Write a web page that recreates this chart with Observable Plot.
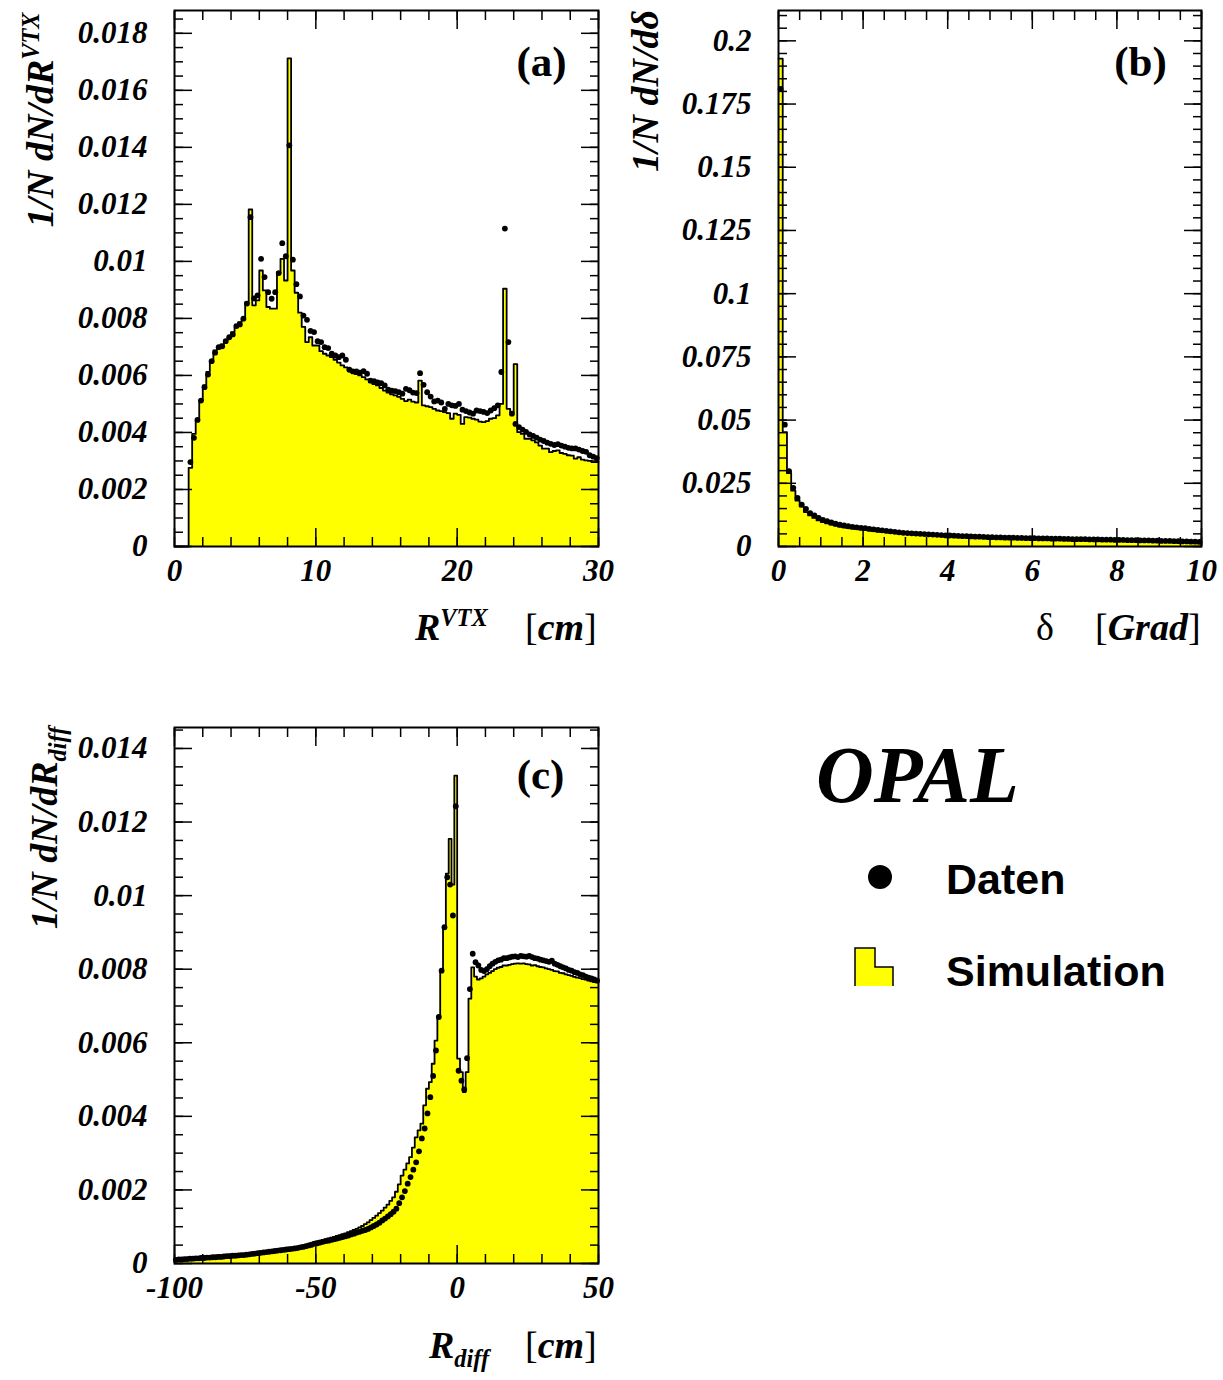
<!DOCTYPE html>
<html>
<head>
<meta charset="utf-8">
<script src="https://cdn.jsdelivr.net/npm/d3@7"></script>
<script src="https://cdn.jsdelivr.net/npm/@observablehq/plot@0.6"></script>
<style>
  body { margin: 0; background: #fff; }
  #page { position: relative; width: 1223px; height: 1380px; overflow: hidden;
          font-family: "Liberation Serif", "Times New Roman", serif; color: #000; }
  .panel { position: absolute; }
  .t { position: absolute; font-weight: bold; font-style: italic; font-size: 38px;
       white-space: nowrap; line-height: 1; }
  .rot { transform: translate(-50%, -50%) rotate(-90deg); }
  .up { font-style: normal; font-weight: normal; }
  sup, sub { font-size: 0.64em; line-height: 0; }
  .sans { font-family: "Liberation Sans", Arial, sans-serif; font-style: normal; font-weight: bold; }
</style>
</head>
<body>
<div id="page">
  <div class="panel" id="pa" style="left:0;top:0"></div>
  <div class="panel" id="pb" style="left:600px;top:0"></div>
  <div class="panel" id="pc" style="left:0;top:700px"></div>

  <!-- axis titles -->
  <div class="t rot" style="left:40px;top:120px">1/N dN/dR<sup>VTX</sup></div>
  <div class="t" style="left:415px;top:608px">R<sup>VTX</sup></div>
  <div class="t" style="left:525px;top:608px"><span class="up">[</span>cm<span class="up">]</span></div>

  <div class="t rot" style="left:645px;top:91px">1/N dN/d&#948;</div>
  <div class="t up" style="left:1036px;top:608px">&#948;</div>
  <div class="t" style="left:1095px;top:608px"><span class="up">[</span>Grad<span class="up">]</span></div>

  <div class="t rot" style="left:44px;top:828px">1/N dN/dR<sub>diff</sub></div>
  <div class="t" style="left:429px;top:1326px">R<sub>diff</sub></div>
  <div class="t" style="left:525px;top:1326px"><span class="up">[</span>cm<span class="up">]</span></div>

  <!-- experiment tag and legend -->
  <div class="t" style="left:816px;top:735px;font-size:80px">OPAL</div>
  <svg style="position:absolute;left:840px;top:850px" width="60" height="150">
    <circle cx="40" cy="27" r="12" fill="#000"></circle>
    <path d="M15,136 V98 H35 V117 H53 V136 Z" fill="#ffff00"></path>
    <path d="M15,136 V98 H35 V117 H53 V136" fill="none" stroke="#000" stroke-width="1.5"></path>
  </svg>
  <div class="t sans" style="left:946px;top:858px;font-size:43px">Daten</div>
  <div class="t sans" style="left:946px;top:950px;font-size:43px">Simulation</div>
</div>

<script>
// ---------- (a) vertex radius R^VTX, 120 bins of 0.25 cm on [0, 30] ----------
const rvtxRange = [0, 30];
const rvtxSim = [
  0, 0, 0, 0, 0.00276, 0.00395, 0.00442, 0.00512, 0.00565, 0.00612,
  0.00647, 0.00688, 0.00699, 0.00709, 0.00723, 0.00734, 0.00752, 0.00769, 0.00787, 0.00799,
  0.00857, 0.01182, 0.00846, 0.00863, 0.00968, 0.00898, 0.0084, 0.00834, 0.00834, 0.00962,
  0.01009, 0.00933, 0.01712, 0.00968, 0.0089, 0.0082, 0.0077, 0.00717, 0.00734, 0.00705,
  0.00705, 0.00685, 0.00676, 0.0067, 0.00664, 0.00655, 0.00645, 0.00635, 0.00628, 0.00618,
  0.00612, 0.00605, 0.006, 0.00594, 0.00586, 0.00576, 0.0057, 0.00565, 0.00556, 0.00547,
  0.0054, 0.00534, 0.0053, 0.00525, 0.00518, 0.0051, 0.00515, 0.00508, 0.00505, 0.00582,
  0.00495, 0.00492, 0.00489, 0.00483, 0.00477, 0.00475, 0.00471, 0.00468, 0.00448, 0.00466,
  0.00462, 0.0043, 0.00454, 0.00452, 0.00448, 0.00445, 0.00438, 0.00436, 0.0044, 0.00448,
  0.0045, 0.0046, 0.005, 0.00904, 0.00483, 0.0047, 0.0064, 0.00401, 0.00395, 0.00378,
  0.00378, 0.00372, 0.00365, 0.00354, 0.00343, 0.00343, 0.00331, 0.00335, 0.00337, 0.00328,
  0.00325, 0.0032, 0.00319, 0.00308, 0.00313, 0.00305, 0.00302, 0.003, 0.00296, 0.00296
];
const rvtxData = [
  null, null, null, null, 0.00296, 0.00381, 0.00444, 0.00512, 0.00559, 0.00603,
  0.0065, 0.0068, 0.00699, 0.00702, 0.0072, 0.00734, 0.00744, 0.00773, 0.00779, 0.00799,
  0.00852, 0.01155, 0.0087, 0.00881, 0.01009, 0.00945, 0.00892, 0.00869, 0.00892, 0.00959,
  0.01064, 0.01018, 0.01407, 0.01006, 0.0092, 0.00877, 0.0081, 0.00795, 0.00756, 0.00752,
  0.0072, 0.00717, 0.00699, 0.00696, 0.00676, 0.0067, 0.00664, 0.0067, 0.00655, 0.0062,
  0.00614, 0.00614, 0.0061, 0.00615, 0.00606, 0.00582, 0.0058, 0.00576, 0.00573, 0.00565,
  0.0055, 0.00547, 0.00545, 0.00541, 0.00536, 0.00553, 0.00548, 0.0054, 0.00538, 0.00608,
  0.00567, 0.00541, 0.00526, 0.00509, 0.00512, 0.00505, 0.00483, 0.005, 0.00495, 0.00493,
  0.005, 0.0048, 0.00475, 0.0047, 0.00466, 0.00477, 0.00475, 0.00472, 0.00468, 0.00477,
  0.00485, 0.00495, 0.00612, 0.01115, 0.00717, 0.00466, 0.0043, 0.00419, 0.0041, 0.00402,
  0.00393, 0.00388, 0.00382, 0.00375, 0.0037, 0.00364, 0.0036, 0.00356, 0.00359, 0.00354,
  0.0035, 0.00346, 0.00344, 0.00344, 0.0034, 0.00335, 0.00332, 0.0032, 0.00315, 0.0031
];
const rvtxXTicks = [0, 10, 20, 30];
const rvtxYTicks = [0, 0.002, 0.004, 0.006, 0.008, 0.01, 0.012, 0.014, 0.016, 0.018];

// ---------- (b) opening angle delta, 100 bins of 0.1 degree on [0, 10] ----------
const deltaRange = [0, 10];
const deltaSim = [
  0.193, 0.0452, 0.029, 0.0221, 0.0182, 0.0158, 0.0136, 0.0123, 0.0113, 0.0103,
  0.0097, 0.0092, 0.0087, 0.0083, 0.0079, 0.0076, 0.0073, 0.0071, 0.0069, 0.0067,
  0.0065, 0.0063, 0.0061, 0.0059, 0.0057, 0.0056, 0.0054, 0.0053, 0.0051, 0.005,
  0.0049, 0.0048, 0.0047, 0.0046, 0.0045, 0.0044, 0.0043, 0.0042, 0.0041, 0.004,
  0.004, 0.0039, 0.0038, 0.0038, 0.0037, 0.0036, 0.0036, 0.0035, 0.0035, 0.0034,
  0.0034, 0.0033, 0.0033, 0.0032, 0.0032, 0.0032, 0.0031, 0.0031, 0.003, 0.003,
  0.003, 0.0029, 0.0029, 0.0029, 0.0028, 0.0028, 0.0028, 0.0027, 0.0027, 0.0027,
  0.0026, 0.0026, 0.0026, 0.0025, 0.0025, 0.0025, 0.0024, 0.0024, 0.0024, 0.0023,
  0.0023, 0.0023, 0.0022, 0.0022, 0.0022, 0.0021, 0.0021, 0.0021, 0.002, 0.002,
  0.0019, 0.0019, 0.0019, 0.0018, 0.0018, 0.0017, 0.0017, 0.0016, 0.0016, 0.0015
];
const deltaData = [
  0.181, 0.0482, 0.0298, 0.0232, 0.0192, 0.0166, 0.0149, 0.0132, 0.0123, 0.0113,
  0.0105, 0.01, 0.0095, 0.009, 0.0086, 0.0083, 0.008, 0.0078, 0.0076, 0.0074,
  0.00725, 0.007, 0.0068, 0.0066, 0.0064, 0.0062, 0.006, 0.0058, 0.0056, 0.0054,
  0.0053, 0.0052, 0.0051, 0.005, 0.0049, 0.0048, 0.0047, 0.0046, 0.0045, 0.0044,
  0.00435, 0.0043, 0.0042, 0.0041, 0.0041, 0.004, 0.0039, 0.0039, 0.0038, 0.0037,
  0.0037, 0.0036, 0.0036, 0.0035, 0.0035, 0.0035, 0.0034, 0.0034, 0.0033, 0.0033,
  0.0033, 0.0032, 0.0032, 0.0032, 0.0031, 0.0031, 0.0031, 0.003, 0.003, 0.0029,
  0.0029, 0.0029, 0.0029, 0.0028, 0.0028, 0.0028, 0.0027, 0.0027, 0.0027, 0.0026,
  0.0026, 0.0026, 0.0025, 0.0025, 0.0025, 0.0024, 0.0024, 0.0024, 0.0023, 0.0023,
  0.0022, 0.0022, 0.0022, 0.0021, 0.0021, 0.002, 0.002, 0.0019, 0.0019, 0.0018
];
const deltaXTicks = [0, 2, 4, 6, 8, 10];
const deltaYTicks = [0, 0.025, 0.05, 0.075, 0.1, 0.125, 0.15, 0.175, 0.2];

// ---------- (c) radial difference R_diff, 150 bins of 1 cm on [-100, 50] ----------
const rdiffRange = [-100, 50];
const rdiffSim = [
  0.00014, 0.00014, 0.00015, 0.00015, 0.00016, 0.00016, 0.00017, 0.00017, 0.00018, 0.00019,
  0.00019, 0.0002, 0.0002, 0.00021, 0.00021, 0.00022, 0.00022, 0.00023, 0.00023, 0.00024,
  0.00024, 0.00025, 0.00026, 0.00026, 0.00027, 0.00027, 0.00028, 0.00029, 0.0003, 0.00031,
  0.00032, 0.00033, 0.00034, 0.00035, 0.00036, 0.00037, 0.00038, 0.00039, 0.0004, 0.00041,
  0.00042, 0.00043, 0.00044, 0.00046, 0.00047, 0.00049, 0.0005, 0.00052, 0.00055, 0.00058,
  0.0006, 0.00062, 0.00064, 0.00066, 0.00068, 0.0007, 0.00072, 0.00075, 0.00077, 0.0008,
  0.00082, 0.00085, 0.00088, 0.00091, 0.00094, 0.00098, 0.00102, 0.00107, 0.00112, 0.00118,
  0.00124, 0.0013, 0.00137, 0.00144, 0.00152, 0.0016, 0.0017, 0.0018, 0.00195, 0.00215,
  0.00239, 0.00255, 0.00272, 0.00289, 0.00315, 0.00343, 0.00362, 0.0038, 0.0043, 0.00475,
  0.00493, 0.00543, 0.00606, 0.00669, 0.00796, 0.00914, 0.0106, 0.01154, 0.0103, 0.01326,
  0.00557, 0.0052, 0.00466, 0.0052, 0.0072, 0.00805, 0.0078, 0.00772, 0.00775, 0.0078,
  0.00786, 0.0079, 0.00795, 0.008, 0.00804, 0.00806, 0.0081, 0.0081, 0.00812, 0.00814,
  0.00815, 0.00816, 0.00815, 0.00816, 0.00814, 0.00813, 0.0081, 0.00811, 0.00808, 0.00806,
  0.00805, 0.00802, 0.008, 0.00798, 0.00795, 0.00794, 0.0079, 0.00789, 0.00786, 0.00784,
  0.00782, 0.00779, 0.00777, 0.00776, 0.00773, 0.00772, 0.00769, 0.00767, 0.00765, 0.00764
];
const rdiffData = [
  0.0001, 0.00011, 0.00011, 0.00012, 0.00012, 0.00013, 0.00013, 0.00014, 0.00014, 0.00015,
  0.00015, 0.00016, 0.00016, 0.00017, 0.00017, 0.00018, 0.00018, 0.00019, 0.0002, 0.0002,
  0.00021, 0.00021, 0.00022, 0.00023, 0.00023, 0.00024, 0.00025, 0.00026, 0.00027, 0.00028,
  0.00029, 0.0003, 0.00031, 0.00032, 0.00033, 0.00034, 0.00035, 0.00036, 0.00037, 0.00038,
  0.00039, 0.0004, 0.00041, 0.00042, 0.00044, 0.00045, 0.00047, 0.00049, 0.00051, 0.00054,
  0.00055, 0.00057, 0.00059, 0.00061, 0.00062, 0.00064, 0.00066, 0.00068, 0.0007, 0.00072,
  0.00074, 0.00076, 0.00079, 0.00081, 0.00084, 0.00086, 0.00089, 0.00091, 0.00094, 0.00098,
  0.00102, 0.00106, 0.00111, 0.00117, 0.00122, 0.00128, 0.00134, 0.00141, 0.00149, 0.00164,
  0.0018, 0.00197, 0.00217, 0.00235, 0.00255, 0.00275, 0.00305, 0.0034, 0.00367, 0.00408,
  0.00452, 0.0051, 0.00579, 0.0067, 0.00796, 0.00914, 0.0105, 0.0103, 0.00946, 0.01243,
  0.00524, 0.00497, 0.00473, 0.00558, 0.00746, 0.00842, 0.00819, 0.0081, 0.00798, 0.00795,
  0.008, 0.00808, 0.00815, 0.0082, 0.00824, 0.00826, 0.0083, 0.0083, 0.00832, 0.00834,
  0.00835, 0.00833, 0.00836, 0.00835, 0.00834, 0.00836, 0.00833, 0.0083, 0.00829, 0.00826,
  0.00824, 0.00822, 0.0082, 0.00823, 0.00815, 0.00812, 0.00808, 0.00805, 0.00802, 0.00798,
  0.00796, 0.00792, 0.0079, 0.00786, 0.00784, 0.0078, 0.00777, 0.00775, 0.00772, 0.00769
];
const rdiffXTicks = [-100, -50, 0, 50];
const rdiffYTicks = [0, 0.002, 0.004, 0.006, 0.008, 0.01, 0.012, 0.014];

// Inward-pointing ticks on all four sides of the frame, labels on left and bottom.
function frameAxes({xTicks, xMinor, yTicks, yMinor, xFmt, yFmt}) {
  const tk = {stroke: "black", strokeWidth: 1.5, label: null};
  return [
    Plot.axisX(xTicks, {...tk, anchor: "bottom", tickSize: -18, tickPadding: 30, tickFormat: xFmt}),
    Plot.axisX(xMinor, {...tk, anchor: "bottom", tickSize: -9, fill: "none"}),
    Plot.axisX(xTicks, {...tk, anchor: "top", tickSize: -18, fill: "none"}),
    Plot.axisX(xMinor, {...tk, anchor: "top", tickSize: -9, fill: "none"}),
    Plot.axisY(yTicks, {...tk, anchor: "left", tickSize: -18, tickPadding: 45, tickFormat: yFmt}),
    Plot.axisY(yMinor, {...tk, anchor: "left", tickSize: -9, fill: "none"}),
    Plot.axisY(yTicks, {...tk, anchor: "right", tickSize: -18, fill: "none"}),
    Plot.axisY(yMinor, {...tk, anchor: "right", tickSize: -9, fill: "none"})
  ];
}

// Filled histogram (simulation) with step outline, plus data points at bin centres.
function histPanel(o) {
  const [lo, hi] = o.range;
  const n = o.sim.length;
  const bw = (hi - lo) / n;
  const steps = o.sim.map((v, i) => ({x: lo + i * bw, y: v}));
  steps.push({x: hi, y: o.sim[n - 1]});
  const points = o.data
    .map((v, i) => ({x: lo + (i + 0.5) * bw, y: v}))
    .filter((d) => d.y != null);
  return Plot.plot({
    width: o.width, height: o.height,
    marginLeft: o.ml, marginRight: o.mr, marginTop: o.mt, marginBottom: o.mb,
    x: {domain: o.range, label: null},
    y: {domain: o.yDomain, label: null},
    style: {background: "none", fontFamily: "'Liberation Serif', 'Times New Roman', serif",
            fontSize: "31px", fontWeight: "bold", fontStyle: "italic", color: "black"},
    marks: [
      Plot.areaY(steps, {x: "x", y: "y", curve: "step-after", fill: "#ffff00"}),
      Plot.line(steps, {x: "x", y: "y", curve: "step-after", stroke: "black", strokeWidth: 1.8}),
      Plot.dot(points, {x: "x", y: "y", r: 2.9, fill: "black", stroke: "none"}),
      ...frameAxes(o),
      Plot.frame({stroke: "black", strokeWidth: 2}),
      Plot.text([o.tag], {frameAnchor: "top-right", dx: o.tagDx, dy: o.tagDy,
        textAnchor: "middle", lineAnchor: "middle", fontSize: 43, fontStyle: "normal",
        fontWeight: "bold", fill: "black"})
    ]
  });
}

const fmtNum = (d) => String(+d.toFixed(4));

document.getElementById("pa").append(histPanel({
  range: rvtxRange, sim: rvtxSim, data: rvtxData, yDomain: [0, 0.0188],
  xTicks: rvtxXTicks, xMinor: d3.range(0, 31, 2), yTicks: rvtxYTicks,
  yMinor: d3.range(0, 38).map((i) => i * 0.0005),
  xFmt: (d) => String(d), yFmt: fmtNum,
  width: 620, height: 600, ml: 174, mr: 22, mt: 10, mb: 54,
  tag: "(a)", tagDx: -57, tagDy: 52
}));

document.getElementById("pb").append(histPanel({
  range: deltaRange, sim: deltaSim, data: deltaData, yDomain: [0, 0.212],
  xTicks: deltaXTicks, xMinor: d3.range(0, 21).map((i) => i * 0.5), yTicks: deltaYTicks,
  yMinor: d3.range(0, 43).map((i) => i * 0.005),
  xFmt: (d) => String(d), yFmt: fmtNum,
  width: 623, height: 600, ml: 178, mr: 22, mt: 10, mb: 54,
  tag: "(b)", tagDx: -61, tagDy: 52
}));

document.getElementById("pc").append(histPanel({
  range: rdiffRange, sim: rdiffSim, data: rdiffData, yDomain: [0, 0.01457],
  xTicks: rdiffXTicks, xMinor: d3.range(-100, 51, 10), yTicks: rdiffYTicks,
  yMinor: d3.range(0, 30).map((i) => i * 0.0005),
  xFmt: (d) => String(d), yFmt: fmtNum,
  width: 620, height: 620, ml: 174, mr: 22, mt: 27, mb: 57,
  tag: "(c)", tagDx: -58, tagDy: 48
}));
</script>
</body>
</html>
